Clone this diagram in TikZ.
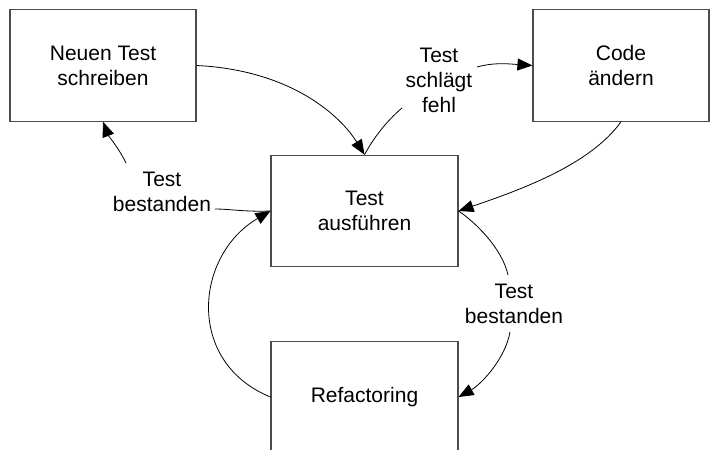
\documentclass[tikz,border=0pt]{standalone}
\usepackage{fontspec}
\setmainfont{Liberation Sans}
\usetikzlibrary{arrows.meta}
\begin{document}
\begin{tikzpicture}[x=1pt,y=-1pt,
  box/.style={draw=black!70, line width=1.1pt, minimum width=#1, minimum height=111.5pt, inner sep=0pt, align=center, font=\fontsize{21}{25}\selectfont},
  lbl/.style={align=center, inner sep=1pt, font=\fontsize{21}{25}\selectfont},
  conn/.style={line width=0.8pt},
  arr/.style={conn, -{Triangle[length=15pt,width=12pt]}}
]
\useasboundingbox (0,0) rectangle (710,450);
\fill[white] (0,0) rectangle (710,450);
\node[box=186pt] (write) at (103,65.5) {Neuen Test\\schreiben};
\node[box=176pt] (code) at (621,65.5) {Code\\ändern};
\node[box=187pt] (run) at (364.5,211) {Test\\ausführen};
\node[box=187pt] (refac) at (364.5,397) {Refactoring};
\node[lbl] (fail) at (439,80) {Test\\schlägt\\fehl};
\node[lbl] (passL) at (162,192) {Test\\bestanden};
\node[lbl] (passR) at (514,304) {Test\\bestanden};
\coordinate (failL) at (402,108);
\coordinate (failR) at (477,67);
\coordinate (passLtop) at (126,163);
\coordinate (passLright) at (215,209);
\coordinate (passRtop) at (508,275);
\coordinate (passRbot) at (510,332);
\draw[arr] (write.east) .. controls (290,70) and (340,115) .. (run.north);
\draw[conn] (run.north) .. controls (375,135) and (390,118) .. (failL);
\draw[arr] (failR) .. controls (495,62) and (510,64) .. (code.west);
\draw[arr] (code.south) .. controls (590,165) and (520,190) .. (run.east);
\draw[conn] (run.east) .. controls (475,222) and (502,248) .. (passRtop);
\draw[arr] (passRbot) .. controls (505,360) and (480,385) .. (refac.east);
\draw[arr] (refac.west) .. controls (185,362) and (195,255) .. (run.west);
\draw[conn] (run.west) .. controls (245,212) and (230,209) .. (passLright);
\draw[arr] (passLtop) .. controls (120,150) and (108,135) .. (write.south);
\end{tikzpicture}
\end{document}
